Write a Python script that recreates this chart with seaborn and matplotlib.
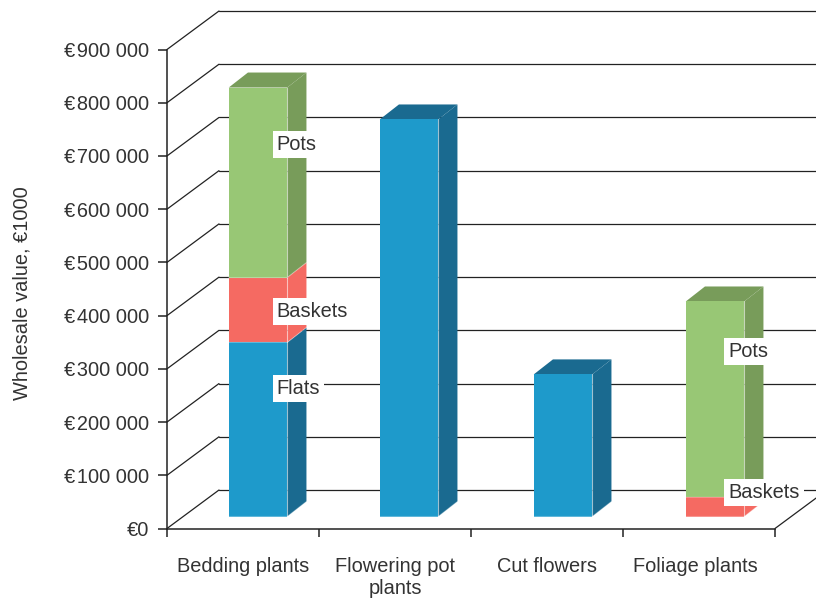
import numpy as np
import matplotlib
matplotlib.use("Agg")
import matplotlib.pyplot as plt
from matplotlib.patches import Polygon
from matplotlib.transforms import Affine2D
import seaborn as sns

# Wholesale values by crop group and container type
categories = ["Bedding plants", "Flowering pot\nplants", "Cut flowers", "Foliage plants"]
flats = [327000, 746000, 267000, 0]
baskets = [122000, 0, 0, 36000]
pots = [357000, 0, 0, 368000]
y_ticks = [0, 100000, 200000, 300000, 400000, 500000, 600000, 700000, 800000, 900000]
y_labels = ["€0", "€\u200a100 000", "€\u200a200 000", "€\u200a300 000", "€\u200a400 000",
            "€\u200a500 000", "€\u200a600 000", "€\u200a700 000", "€\u200a800 000", "€\u200a900 000"]

series_labels = [
    ("Pots", 0, 699000, -10.5), ("Baskets", 0, 385000, -10.5), ("Flats", 0, 240000, -10.5),
    ("Pots", 3, 310000, -16), ("Baskets", 3, 45000, -16),
]

FRONT = {"blue": "#1E9ACB", "red": "#F56A62", "green": "#98C775"}
SIDE = {"blue": "#1A6A90", "red": "#F56A62", "green": "#789C5A"}
TOP = {"blue": "#1A6A90", "red": "#F56A62", "green": "#789C5A"}
LINE = "#222222"
TEXT = "#333333"
FONT_SIZE = 14.4

sns.set_theme(style="white")
plt.rcParams["font.family"] = ["Liberation Sans", "DejaVu Sans"]

fig = plt.figure(figsize=(8.16, 5.98), dpi=100)
W, H = 816, 598
ax = fig.add_axes([167 / W, 1 - 528.5 / H, 608 / W, 479 / H])
px_x = 152.0              # pixels per category
px_y = 479.0 / 900000     # pixels per euro

# Each bar stands on the middle of the floor; the shift per bar is in pixels
floor_dx = [15, 14, 16, 16]
shifts = [ax.transData + Affine2D().translate(dx, 12) for dx in floor_dx]
depth_x, depth_y = 19.2 / px_x, 15 / px_y
wall_x, wall_y = 52 / px_x, 38.5 / px_y

bar_width = 58.5 / px_x
stack = [("blue", flats, np.zeros(4)),
         ("red", baskets, np.array(flats, float)),
         ("green", pots, np.array(flats, float) + np.array(baskets, float))]
totals = np.array(flats, float) + np.array(baskets, float) + np.array(pots, float)

for name, values, base in stack:
    before = len(ax.patches)
    sns.barplot(x=categories, y=values, bottom=base, color=FRONT[name], saturation=1,
                width=bar_width, ax=ax, zorder=4, linewidth=0)
    for bar, v, b, total, shift in zip(ax.patches[before:], values, base, totals, shifts):
        if v == 0:
            bar.set_visible(False)
            continue
        bar.set_transform(shift)
        x0, x1 = bar.get_x(), bar.get_x() + bar.get_width()
        y0, y1 = b, b + v
        side = [(x1, y0), (x1 + depth_x, y0 + depth_y), (x1 + depth_x, y1 + depth_y), (x1, y1)]
        ax.add_patch(Polygon(side, closed=True, facecolor=SIDE[name], edgecolor="none",
                             transform=shift, zorder=3, clip_on=False))
        ax.plot([x1, x1], [y0, y1], color="white", alpha=0.45, lw=0.8, transform=shift,
                zorder=5, clip_on=False)
        ax.plot([x0, x1, x1 + depth_x], [y0, y0, y0 + depth_y], color="white", alpha=0.3, lw=0.8,
                transform=shift, zorder=5, clip_on=False)
        if y1 == total:
            top = [(x0, y1), (x1, y1), (x1 + depth_x, y1 + depth_y), (x0 + depth_x, y1 + depth_y)]
            ax.add_patch(Polygon(top, closed=True, facecolor=TOP[name], edgecolor="none",
                                 transform=shift, zorder=3, clip_on=False))

ax.set_xlim(-0.5, 3.5)
ax.set_ylim(0, 900000)
ax.set_xlabel("")
sns.despine(ax=ax, top=True, right=True)
for spine in ("left", "bottom"):
    ax.spines[spine].set_color(LINE)
    ax.spines[spine].set_linewidth(1.1)
    ax.spines[spine].set_zorder(2)

# Back wall and the diagonals running to it
for v in y_ticks:
    ax.plot([-0.5, -0.5 + wall_x], [v, v + wall_y], color=LINE, lw=0.9, zorder=1, clip_on=False)
    ax.plot([-0.5 + wall_x, 3.5 + wall_x], [v + wall_y, v + wall_y], color=LINE, lw=0.9,
            zorder=1, clip_on=False)
ax.plot([3.5, 3.5 + wall_x], [0, wall_y], color=LINE, lw=0.9, zorder=1, clip_on=False)

ax.set_yticks(y_ticks)
ax.set_yticklabels(y_labels, fontsize=FONT_SIZE, color=TEXT)
ax.tick_params(axis="y", length=6.5, width=1.1, color=LINE, pad=6.5, left=True)
ax.set_xticks(range(4))
ax.set_xticklabels(categories, fontsize=FONT_SIZE, color=TEXT, linespacing=1.2, va="top")
ax.set_xticks(np.arange(-0.5, 4), minor=True)
ax.tick_params(axis="x", which="major", length=0, pad=20.7)
ax.tick_params(axis="x", which="minor", length=6, width=1.1, color=LINE, bottom=True)

# The last category label sits a little left of its slot centre
last_label = ax.get_xticklabels()[-1]
last_label.set_transform(last_label.get_transform() + Affine2D().translate(-4, 0))

fig.text(22 / W, 1 - 293 / H, "Wholesale value, €1000", rotation=90, fontsize=FONT_SIZE,
         color=TEXT, ha="center", va="center")

# Series names sit in white boxes across the right edge of their segment
for text, idx, value, dx in series_labels:
    right = idx + bar_width / 2
    ax.text(right + dx / px_x, value, text, fontsize=FONT_SIZE, color=TEXT, ha="left", va="center",
            transform=shifts[idx], zorder=6, clip_on=False,
            bbox=dict(facecolor="white", edgecolor="none", pad=3))

fig.savefig("out.png", dpi=100, facecolor="white")
